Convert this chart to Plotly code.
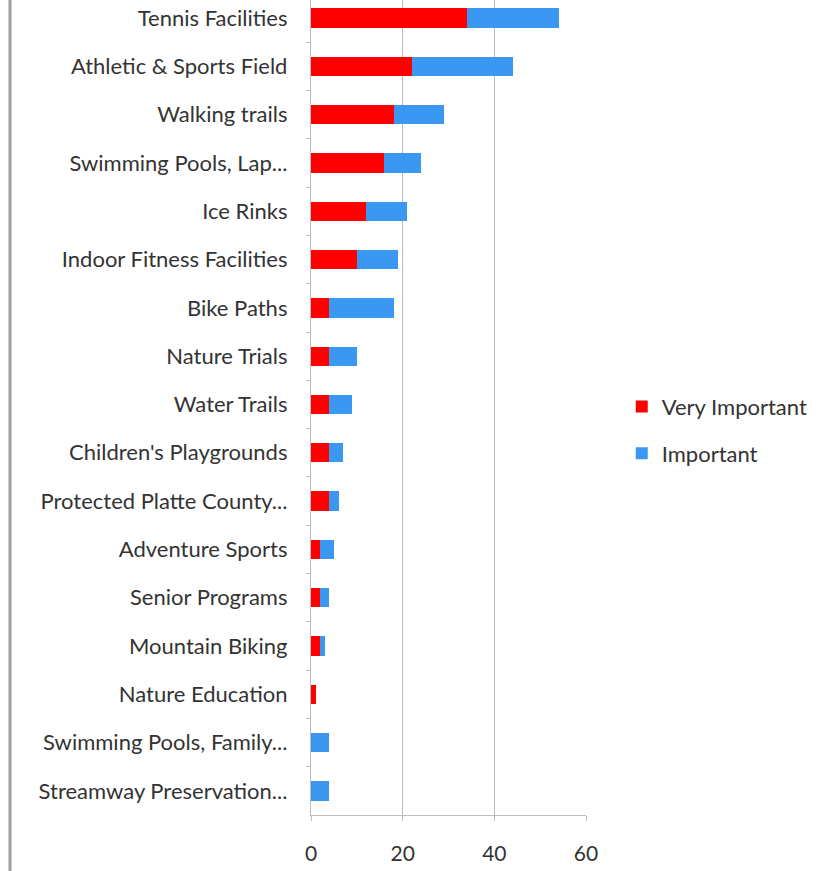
import plotly.graph_objects as go

categories = [
    "Tennis Facilities",
    "Athletic & Sports Field",
    "Walking trails",
    "Swimming Pools, Lap...",
    "Ice Rinks",
    "Indoor Fitness Facilities",
    "Bike Paths",
    "Nature Trials",
    "Water Trails",
    "Children's Playgrounds",
    "Protected Platte County...",
    "Adventure Sports",
    "Senior Programs",
    "Mountain Biking",
    "Nature Education",
    "Swimming Pools, Family...",
    "Streamway Preservation...",
]
very_important = [34, 22, 18, 16, 12, 10, 4, 4, 4, 4, 4, 2, 2, 2, 1, 0, 0]
important = [20, 22, 11, 8, 9, 9, 14, 6, 5, 3, 2, 3, 2, 1, 0, 4, 4]
x_ticks = [0, 20, 40, 60]

FONT = "Lato"
TXT = "#333333"

fig = go.Figure()
fig.add_trace(go.Bar(y=categories, x=very_important, name="Very Important",
                     orientation="h", legendgroup="a",
                     marker=dict(color="#FF0000", line=dict(width=0))))
fig.add_trace(go.Bar(y=categories, x=important, name="Important",
                     orientation="h", legendgroup="b",
                     marker=dict(color="#3A97F2", line=dict(width=0))))

fig.update_layout(
    width=819, height=871,
    barmode="stack", bargap=0.6,
    margin=dict(l=311, r=233, t=0, b=56),
    paper_bgcolor="white", plot_bgcolor="white",
    font=dict(family=FONT, size=22, color=TXT),
    showlegend=True,
    legend=dict(x=1.13, y=0.472, xanchor="left", yanchor="middle",
                traceorder="grouped", font=dict(size=22, color=TXT),
                tracegroupgap=15, itemwidth=30, bgcolor="rgba(0,0,0,0)"),
    xaxis=dict(range=[0, 60], tickvals=x_ticks, showgrid=True, gridcolor="#BDBDBD",
               gridwidth=1.3, showline=True, linecolor="#BDBDBD", linewidth=1.3,
               ticks="outside", ticklen=5, tickcolor="#BDBDBD", zeroline=False,
               ticklabelstandoff=15, tickfont=dict(size=21, color=TXT)),
    yaxis=dict(categoryorder="array", categoryarray=categories,
               range=[16.5, -0.375], showline=True, linecolor="#BDBDBD", linewidth=1.3,
               ticks="outside", ticklen=4, tickcolor="#BDBDBD", tickson="boundaries",
               showgrid=False, ticklabelstandoff=18,
               tickfont=dict(size=22, color=TXT)),
    shapes=[dict(type="line", xref="paper", yref="paper",
                 x0=(10 - 311) / 275, x1=(10 - 311) / 275, y0=-56 / 815, y1=1.0,
                 line=dict(color="#A0A0A0", width=3))],
)

fig.write_html("out.html", config={"displayModeBar": False},
               post_script="document.body.style.margin='0px';document.body.style.overflow='hidden';")
